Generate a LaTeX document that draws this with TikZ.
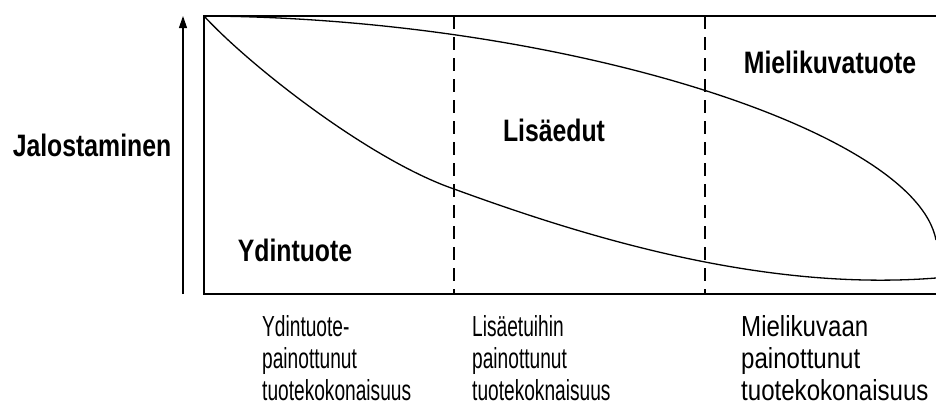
\documentclass[tikz,border=0pt]{standalone}
\usepackage{fontspec}
\usetikzlibrary{arrows.meta}
\newfontfamily\boldlab[FakeStretch=0.8]{Liberation Sans}
\newfontfamily\lightlab[FakeStretch=0.66]{Liberation Sans}
\newfontfamily\lightlabw[FakeStretch=0.83]{Liberation Sans}
\begin{document}
\begin{tikzpicture}[x=1pt,y=-1pt,
  frame/.style={line width=1.6pt},
  curve/.style={line width=1.3pt},
  divider/.style={line width=1.2pt, dash pattern=on 13pt off 8pt},
  axisarrow/.style={line width=1.2pt, -{Triangle[length=12pt,width=8pt]}},
  title/.style={inner sep=0pt, font=\boldlab\bfseries\fontsize{31}{34}\selectfont},
  caption/.style={inner sep=0pt, anchor=north west, align=left, font=\lightlab\fontsize{29}{32}\selectfont},
  captionw/.style={caption, font=\lightlabw\fontsize{29}{32}\selectfont}]
\useasboundingbox (0,0) rectangle (936,405);
% frame corners
\coordinate (tl) at (204,16);
\coordinate (tr) at (936,16);
\coordinate (bl) at (204,294);
\coordinate (br) at (936,294);
\draw[frame] (tr) -- (tl) -- (bl) -- (br);
% axis arrow
\coordinate (a0) at (183,294);
\coordinate (a1) at (183,16);
\draw[axisarrow] (a0) -- (a1);
% dividers
\coordinate (d1t) at (454,16);
\coordinate (d1b) at (454,294);
\coordinate (d2t) at (705,16);
\coordinate (d2b) at (705,294);
\draw[divider] (d1t) -- (d1b);
\draw[divider] (d2t) -- (d2b);
% upper curve
\coordinate (uend) at (936,240);
\draw[curve] (tl) .. controls (560,18) and (915,130) .. (uend);
% lower curve
\coordinate (lmid) at (454,189);
\coordinate (lend) at (936,278);
\draw[curve] (tl) .. controls (250,66) and (370,160) .. (lmid)
                  .. controls (580,235) and (760,292) .. (lend);
% labels
\node[title] (jal) at (92,145) {Jalostaminen};
\node[title] (ydin) at (295,250) {Ydintuote};
\node[title] (lisa) at (554,130) {Lisäedut};
\node[title] (miel) at (830,62) {Mielikuvatuote};
\node[caption] (c1) at (262,315) {Ydintuote-\\painottunut\\tuotekokonaisuus};
\node[caption] (c2) at (472,315) {Lisäetuihin\\painottunut\\tuotekoknaisuus};
\node[captionw] (c3) at (741,315) {Mielikuvaan\\painottunut\\tuotekokonaisuus};
\end{tikzpicture}
\end{document}
